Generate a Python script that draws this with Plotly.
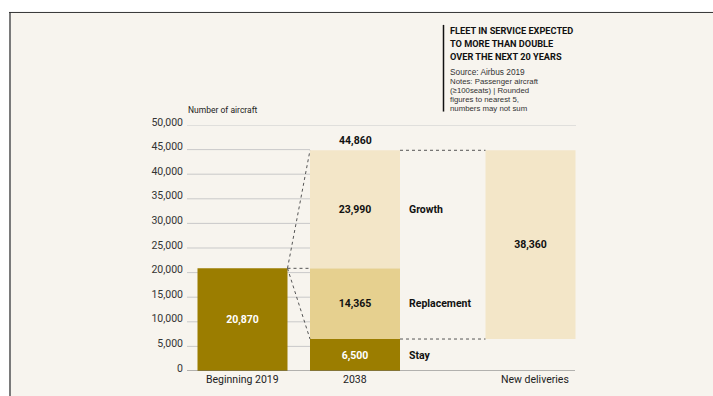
import plotly.graph_objects as go

# ---- data -------------------------------------------------------------
categories = ["Beginning 2019", "2038", "New deliveries"]
fleet_2019 = 20870
stay = 6500
replacement = 14365
growth = 23990
fleet_2038 = 44860
new_deliveries = 38360
segment_labels = ["Growth", "Replacement", "Stay"]
y_ticks = [0, 5000, 10000, 15000, 20000, 25000, 30000, 35000, 40000, 45000, 50000]

title_lines = ["FLEET IN SERVICE EXPECTED", "TO MORE THAN DOUBLE", "OVER THE NEXT 20 YEARS"]
source_line = "Source: Airbus 2019"
note_lines = ["Notes: Passenger aircraft", "(\u2265100seats) | Rounded",
              "figures to nearest 5,", "numbers may not sum"]

# ---- layout constants -------------------------------------------------
W, H = 713, 396
L, R_EDGE = 187, 576          # plot area, horizontal pixels
T, B_EDGE = 124.5, 371.5      # plot area, vertical pixels
X_RANGE = [0, R_EDGE - L]
X_POS = [55.5, 168, 343.5]    # bar centres on the x axis
BAR_W = 90

DARK = "#9b7d00"
MID = "#e6d08f"
LIGHT = "#f3e6c8"
PANEL = "#f7f4ee"
COND = "Roboto, Liberation Sans, sans-serif"
SANS = "Liberation Sans, Arial, sans-serif"


def px(x):
    return (x - L) / (R_EDGE - L)


def py(y):
    return (B_EDGE - y) / (B_EDGE - T)


fig = go.Figure()

label_font = dict(family=COND, size=10.5, weight="bold")

# Beginning 2019 fleet
fig.add_trace(go.Bar(
    x=[X_POS[0]], y=[fleet_2019], width=BAR_W, marker=dict(color=DARK, line_width=0),
    text=[f"{fleet_2019:,}"], textposition="inside", insidetextanchor="middle",
    textfont=dict(label_font, color="white"),
    hoverinfo="skip",
))

# 2038 fleet, stacked from the bottom: stay, replacement, growth
bases_2038 = [0, stay, stay + replacement]
values_2038 = [stay, replacement, growth]
colors_2038 = [DARK, MID, LIGHT]
text_colors = ["white", "#111111", "#111111"]
for base, val, col, tc in zip(bases_2038, values_2038, colors_2038, text_colors):
    fig.add_trace(go.Bar(
        x=[X_POS[1]], y=[val], base=[base], width=BAR_W,
        marker=dict(color=col, line_width=0),
        text=[f"{val:,}"], textposition="inside", insidetextanchor="middle",
        textfont=dict(label_font, color=tc),
        hoverinfo="skip",
    ))

# New deliveries, floating between the retained fleet and the 2038 total
fig.add_trace(go.Bar(
    x=[X_POS[2]], y=[new_deliveries], base=[stay], width=BAR_W,
    marker=dict(color=LIGHT, line_width=0),
    text=[f"{new_deliveries:,}"], textposition="inside", insidetextanchor="middle",
    textfont=dict(label_font, color="#111111"),
    hoverinfo="skip",
))

shapes = []
# panel background and frame
shapes.append(dict(type="rect", xref="paper", yref="paper", x0=px(10), x1=px(W + 2),
                   y0=py(12), y1=py(H + 2), fillcolor=PANEL, line_width=0, layer="below"))
shapes.append(dict(type="line", xref="paper", yref="paper", x0=px(10), x1=px(10),
                   y0=py(11), y1=py(H + 2), line=dict(color="#7a7a7a", width=2), layer="below"))
shapes.append(dict(type="line", xref="paper", yref="paper", x0=px(9), x1=px(W + 2),
                   y0=py(11.5), y1=py(11.5), line=dict(color="#333333", width=1), layer="below"))

# gridlines stop at the 2038 bar, except the top one
left_2038 = X_POS[1] - BAR_W / 2
for v in y_ticks[1:-1]:
    shapes.append(dict(type="line", xref="x", yref="y", x0=X_RANGE[0], x1=left_2038,
                       y0=v, y1=v, line=dict(color="#c9c9c9", width=1), layer="below"))
shapes.append(dict(type="line", xref="x", yref="y", x0=X_RANGE[0], x1=X_RANGE[1],
                   y0=y_ticks[-1], y1=y_ticks[-1], line=dict(color="#c9c9c9", width=1), layer="below"))
# baseline
shapes.append(dict(type="line", xref="x", yref="y", x0=X_RANGE[0], x1=X_RANGE[1] - 1,
                   y0=0, y1=0, line=dict(color="#6e6e6e", width=1.2), layer="above"))

# dashed connectors
dash = dict(color="#555555", width=1, dash="3px,3px")
right_2019 = X_POS[0] + BAR_W / 2
right_2038 = X_POS[1] + BAR_W / 2
left_new = X_POS[2] - BAR_W / 2
top_2038 = stay + replacement + growth
connectors = [
    (right_2019, fleet_2019, left_2038, top_2038),
    (right_2019, fleet_2019, left_2038, stay + replacement),
    (right_2019, fleet_2019, left_2038, stay),
    (right_2038, fleet_2038, left_new, fleet_2038),
    (right_2038, stay, left_new, stay),
]
for x0, y0, x1, y1 in connectors:
    shapes.append(dict(type="line", xref="x", yref="y", x0=x0, y0=y0, x1=x1, y1=y1,
                       line=dash, layer="above"))

# title rule
shapes.append(dict(type="line", xref="paper", yref="paper", x0=px(443.5), x1=px(443.5),
                   y0=py(24), y1=py(111), line=dict(color="#111111", width=1.5)))

annotations = []
# total above 2038 bar
annotations.append(dict(x=X_POS[1], y=fleet_2038, xref="x", yref="y", text=f"{fleet_2038:,}",
                        showarrow=False, yanchor="bottom", yshift=1,
                        font=dict(label_font, color="#111111")))
# segment names to the right of the 2038 bar
seg_mid = [stay + replacement + growth / 2, stay + replacement / 2, stay / 2]
for name, ym in zip(segment_labels, seg_mid):
    annotations.append(dict(x=right_2038 + 7, y=ym, xref="x", yref="y", text=name,
                            showarrow=False, xanchor="left", yanchor="middle",
                            font=dict(label_font, color="#111111")))
# category labels
cat_x = [X_POS[0], X_POS[1], X_POS[2] + 4.5]
for name, cx in zip(categories, cat_x):
    annotations.append(dict(x=cx, y=py(380), xref="x", yref="paper", text=name,
                            showarrow=False, xanchor="center", yanchor="middle",
                            font=dict(family=COND, size=10.5, color="#222222")))
# axis title
annotations.append(dict(x=px(186), y=py(109), xref="paper", yref="paper", text="Number of aircraft",
                        showarrow=False, xanchor="left", yanchor="middle",
                        font=dict(family=COND, size=8.5, color="#222222")))
# title block
for i, line in enumerate(title_lines):
    annotations.append(dict(x=px(448), y=py(29.5 + 13 * i), xref="paper", yref="paper", text=line,
                            showarrow=False, xanchor="left", yanchor="middle",
                            font=dict(family=COND, size=9.2, color="#111111", weight="bold")))
annotations.append(dict(x=px(448), y=py(71.6), xref="paper", yref="paper", text=source_line,
                        showarrow=False, xanchor="left", yanchor="middle",
                        font=dict(family=SANS, size=8.3, color="#333333")))
for i, line in enumerate(note_lines):
    annotations.append(dict(x=px(448), y=py(81.3 + 8.85 * i), xref="paper", yref="paper", text=line,
                            showarrow=False, xanchor="left", yanchor="middle",
                            font=dict(family=SANS, size=7.8, color="#333333")))

fig.update_layout(
    width=W, height=H,
    margin=dict(l=L, r=W - R_EDGE, t=T, b=H - B_EDGE, autoexpand=False),
    paper_bgcolor="white", plot_bgcolor="rgba(0,0,0,0)",
    barmode="overlay", showlegend=False,
    shapes=shapes, annotations=annotations,
    xaxis=dict(range=X_RANGE, showgrid=False, zeroline=False, showticklabels=False,
               fixedrange=True),
    yaxis=dict(range=[0, 50000], tickvals=y_ticks, tickformat=",", showgrid=False,
               zeroline=False, ticks="", ticklabelstandoff=3, ticklabelshift=-3,
               tickfont=dict(family=COND, size=10.5, color="#333333"), fixedrange=True),
    uniformtext=dict(mode=False),
)

fig.write_html("out.html")
